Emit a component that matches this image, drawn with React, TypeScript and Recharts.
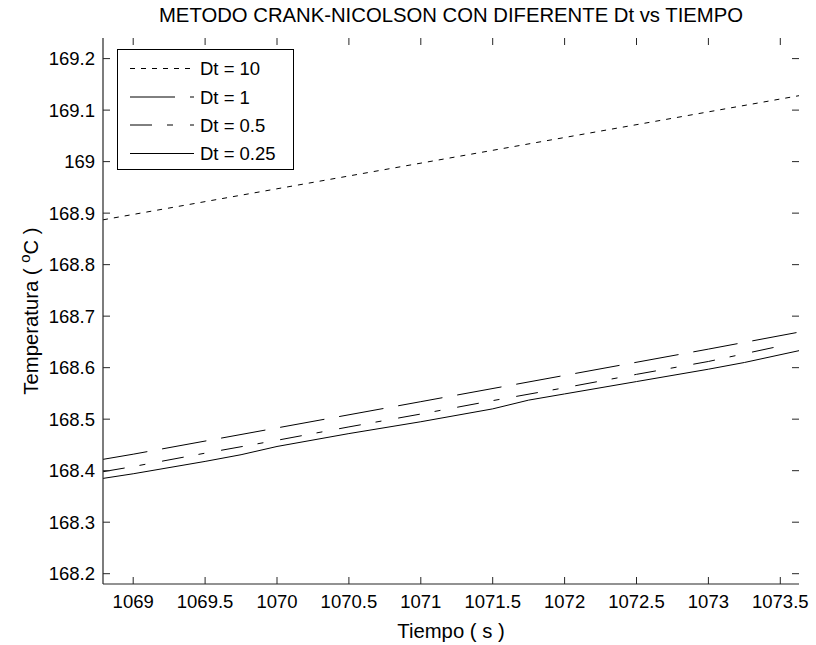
import React from 'react';
import { LineChart, Line, XAxis, YAxis } from 'recharts';

const seriesNames = ['Dt = 10', 'Dt = 1', 'Dt = 0.5', 'Dt = 0.25'];

const dt10Time = [1068.79, 1073.63];
const dt10Temp = [168.887, 169.128];

const dt1Time = [1068.79, 1069, 1070, 1071, 1072, 1073, 1073.63];
const dt1Temp = [168.422, 168.432, 168.483, 168.534, 168.585, 168.636, 168.669];

const dt05Time = [1068.79, 1069, 1069.5, 1070, 1070.5, 1071, 1071.5, 1072, 1072.5, 1073, 1073.5];
const dt05Temp = [168.398, 168.408, 168.434, 168.459, 168.485, 168.510, 168.536, 168.561, 168.587, 168.612, 168.642];

const dt025Time = [1068.79, 1069, 1069.5, 1069.75, 1070, 1070.5, 1071, 1071.5, 1071.75, 1072, 1072.5, 1073, 1073.25, 1073.63];
const dt025Temp = [168.385, 168.394, 168.418, 168.431, 168.447, 168.472, 168.495, 168.520, 168.537, 168.549, 168.573, 168.597, 168.610, 168.633];

const xTicks = [1069, 1069.5, 1070, 1070.5, 1071, 1071.5, 1072, 1072.5, 1073, 1073.5];
const yTicks = [168.2, 168.3, 168.4, 168.5, 168.6, 168.7, 168.8, 168.9, 169, 169.1, 169.2];

const xDomain = [1068.79, 1073.63];
const yDomain = [168.18, 169.24];

const toRows = (t: number[], v: number[]) => t.map((tt, i) => ({ t: tt, v: v[i] }));

const seriesData = [
  toRows(dt10Time, dt10Temp),
  toRows(dt1Time, dt1Temp),
  toRows(dt05Time, dt05Temp),
  toRows(dt025Time, dt025Temp),
];

const dashes = ['5 6', '45 15', '22 15 6 17', undefined];

const PLOT = { left: 103, top: 38, right: 799, bottom: 584 };
const FONT = '"Liberation Sans", Arial, Helvetica, sans-serif';
const TICK_FS = 18.5;
const LABEL_FS = 20.3;
const TICK_LEN = 7;
const AXIS_COLOR = '#262626';

const XTick = (props: any) => {
  const { x, payload } = props;
  return (
    <g>
      <line x1={x} x2={x} y1={PLOT.bottom} y2={PLOT.bottom - TICK_LEN} stroke={AXIS_COLOR} />
      <line x1={x} x2={x} y1={PLOT.top} y2={PLOT.top + TICK_LEN} stroke={AXIS_COLOR} />
      <text x={x} y={PLOT.bottom + 24} textAnchor="middle" fontFamily={FONT} fontSize={TICK_FS} fill="#000">
        {String(payload.value)}
      </text>
    </g>
  );
};

const YTick = (props: any) => {
  const { y, payload } = props;
  return (
    <g>
      <line x1={PLOT.left} x2={PLOT.left + TICK_LEN} y1={y} y2={y} stroke={AXIS_COLOR} />
      <line x1={PLOT.right} x2={PLOT.right - TICK_LEN} y1={y} y2={y} stroke={AXIS_COLOR} />
      <text x={PLOT.left - 8} y={y + 6.5} textAnchor="end" fontFamily={FONT} fontSize={TICK_FS} fill="#000">
        {String(Number(payload.value.toFixed(1)))}
      </text>
    </g>
  );
};

const YLabel = () => {
  const cx = 38;
  const cy = (PLOT.top + PLOT.bottom) / 2;
  return (
    <text
      x={cx}
      y={cy}
      transform={`rotate(-90, ${cx}, ${cy})`}
      textAnchor="middle"
      fontFamily={FONT}
      fontSize={LABEL_FS}
      fill="#000"
      style={{ whiteSpace: 'pre' }}
    >
      {'Temperatura (\u00a0'}
      <tspan dy={-8} fontSize={15}>o</tspan>
      <tspan dy={8}>{'C\u00a0)'}</tspan>
    </text>
  );
};

const XLabel = () => (
  <text
    x={(PLOT.left + PLOT.right) / 2}
    y={PLOT.bottom + 54}
    textAnchor="middle"
    fontFamily={FONT}
    fontSize={LABEL_FS}
    fill="#000"
  >
    Tiempo ( s )
  </text>
);

const LegendBox = () => {
  const rowY = [68.5, 97, 125, 153.5];
  const top = 49;
  return (
    <div
      style={{
        position: 'absolute',
        left: 117,
        top,
        width: 177,
        height: 121,
        border: '1px solid #000',
        background: '#fff',
        boxSizing: 'border-box',
      }}
    >
      <svg width={175} height={119} style={{ display: 'block' }}>
        {seriesNames.map((name, i) => {
          const y = rowY[i] - top - 1;
          return (
            <g key={name}>
              <line x1={12} x2={76} y1={y} y2={y} stroke="#000" strokeWidth={1} strokeDasharray={dashes[i]} />
              <text x={82} y={y + 6.5} fontFamily={FONT} fontSize={TICK_FS} fill="#000">
                {name}
              </text>
            </g>
          );
        })}
      </svg>
    </div>
  );
}

export default function App() {
  return (
    <div style={{ position: 'absolute', left: 0, top: 0, width: 816, height: 645, background: '#fff' }}>
      <div
        style={{
          position: 'absolute',
          left: 0,
          width: PLOT.left + PLOT.right,
          top: 4,
          textAlign: 'center',
          fontFamily: FONT,
          fontSize: LABEL_FS,
          lineHeight: '23px',
          color: '#000',
          whiteSpace: 'nowrap',
        }}
      >
        METODO CRANK-NICOLSON CON DIFERENTE Dt vs TIEMPO
      </div>
      <LineChart width={816} height={645} margin={{ top: 38, right: 17, bottom: 31, left: 43 }}>
        <XAxis
          xAxisId={0}
          type="number"
          dataKey="t"
          domain={xDomain}
          ticks={xTicks}
          allowDataOverflow
          height={30}
          tickLine={false}
          axisLine={{ stroke: AXIS_COLOR, strokeWidth: 1.2 }}
          tick={<XTick />}
          interval={0}
          label={<XLabel />}
        />
        <XAxis
          xAxisId="top"
          orientation="top"
          type="number"
          domain={xDomain}
          allowDataOverflow
          height={0}
          tick={false}
          tickLine={false}
          axisLine={{ stroke: AXIS_COLOR, strokeWidth: 1.2 }}
        />
        <YAxis
          yAxisId={0}
          type="number"
          domain={yDomain}
          ticks={yTicks}
          allowDataOverflow
          width={60}
          tickLine={false}
          axisLine={{ stroke: AXIS_COLOR, strokeWidth: 1.2 }}
          tick={<YTick />}
          interval={0}
          label={<YLabel />}
        />
        <YAxis
          yAxisId="right"
          orientation="right"
          type="number"
          domain={yDomain}
          allowDataOverflow
          width={0}
          tick={false}
          tickLine={false}
          axisLine={{ stroke: AXIS_COLOR, strokeWidth: 1.2 }}
        />
        {seriesData.map((d, i) => (
          <Line
            key={seriesNames[i]}
            data={d}
            dataKey="v"
            name={seriesNames[i]}
            type="linear"
            stroke="#000"
            strokeWidth={1}
            strokeDasharray={dashes[i]}
            dot={false}
            activeDot={false}
            isAnimationActive={false}
          />
        ))}
      </LineChart>
      <LegendBox />
    </div>
  );
}
